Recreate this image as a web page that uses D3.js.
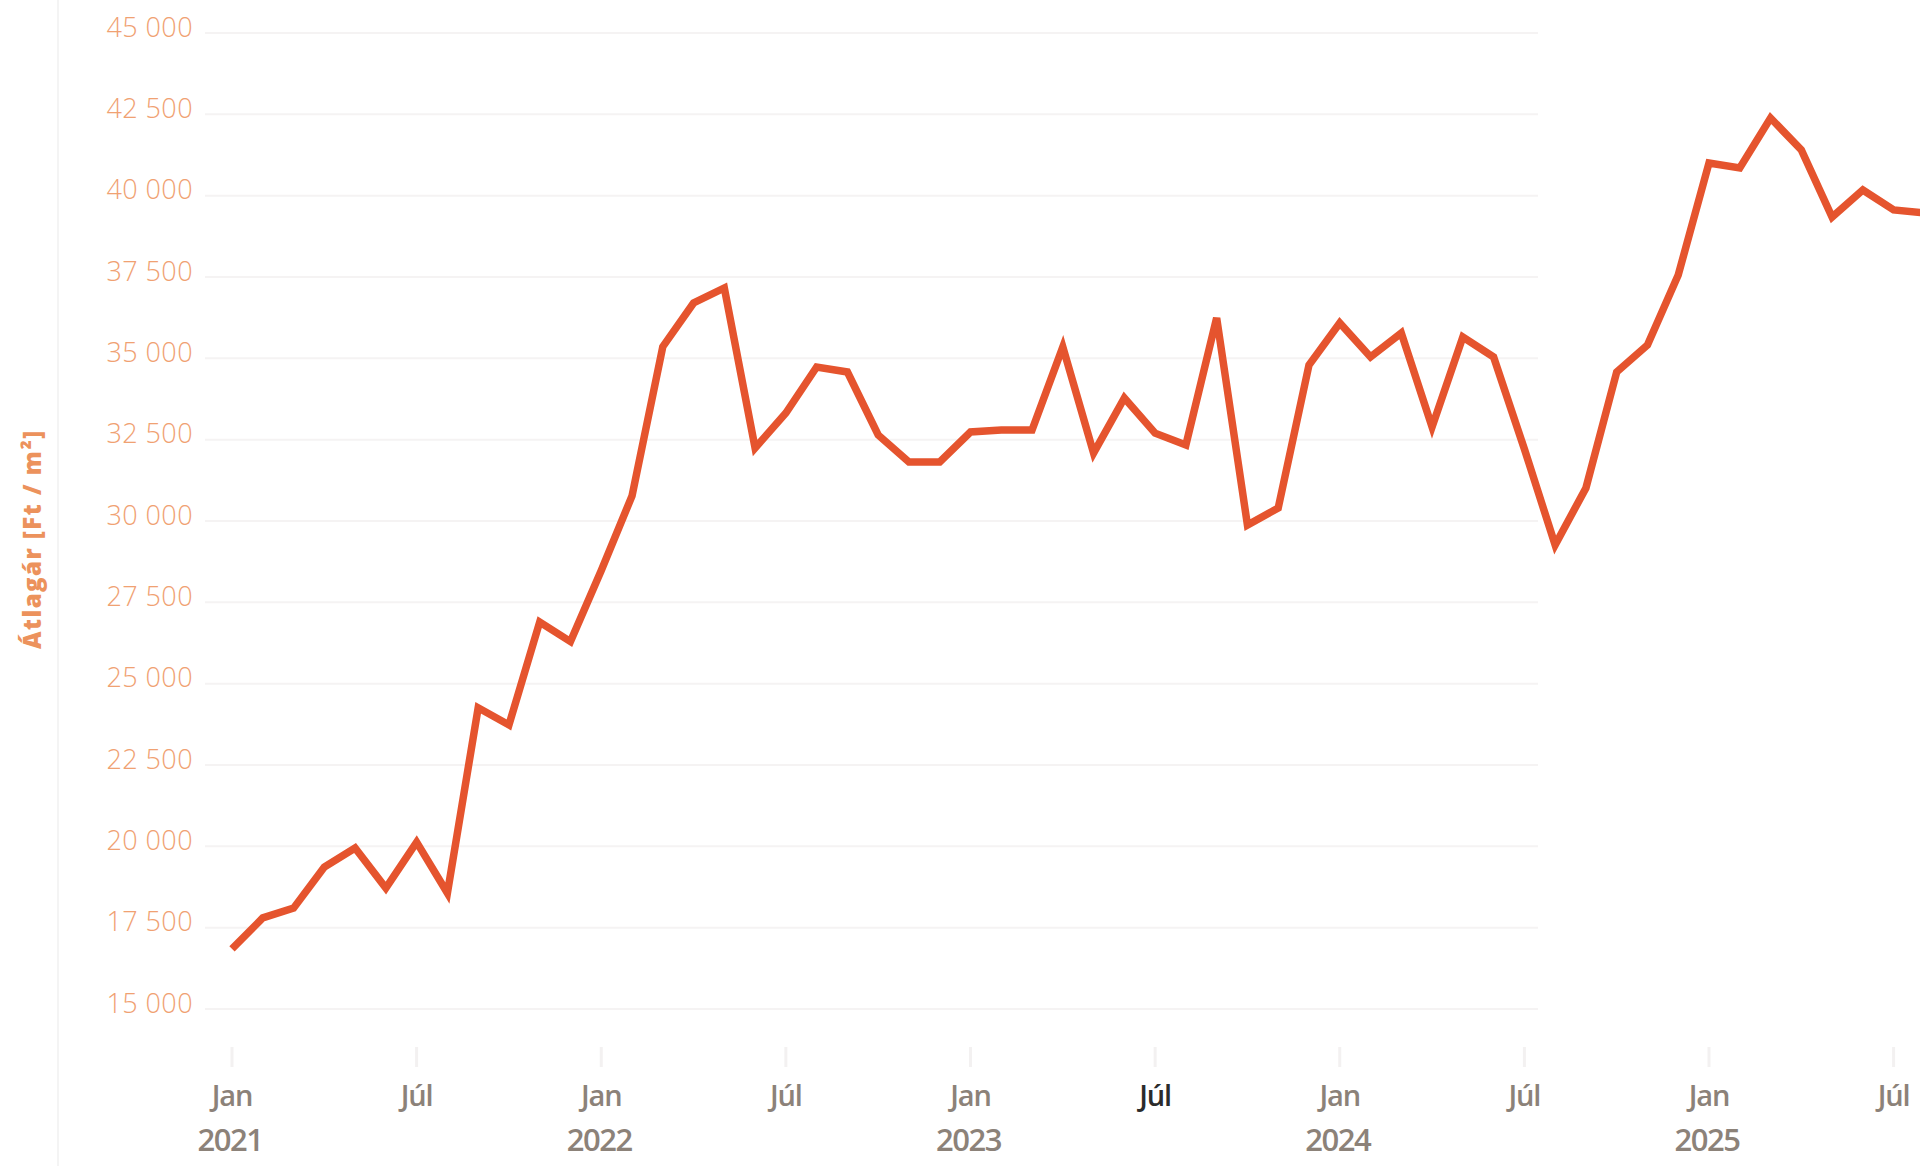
<!DOCTYPE html>
<html>
<head>
<meta charset="utf-8">
<script src="https://cdn.jsdelivr.net/npm/d3@7"></script>
<style>
  html, body { margin: 0; padding: 0; background: #ffffff; }
  svg { display: block; }
</style>
</head>
<body>
<svg id="chart" width="1920" height="1166"></svg>
<script>
// ---- data ----
const months = [
  "2021-01","2021-02","2021-03","2021-04","2021-05","2021-06","2021-07","2021-08","2021-09","2021-10","2021-11","2021-12",
  "2022-01","2022-02","2022-03","2022-04","2022-05","2022-06","2022-07","2022-08","2022-09","2022-10","2022-11","2022-12",
  "2023-01","2023-02","2023-03","2023-04","2023-05","2023-06","2023-07","2023-08","2023-09","2023-10","2023-11","2023-12",
  "2024-01","2024-02","2024-03","2024-04","2024-05","2024-06","2024-07","2024-08","2024-09","2024-10","2024-11","2024-12",
  "2025-01","2025-02","2025-03","2025-04","2025-05","2025-06","2025-07","2025-08"
];
const avgPrice = [
  16850, 17800, 18100, 19365, 19950, 18720, 20130, 18565, 24258, 23733, 26895, 26293,
  28475, 30772, 35358, 36701, 37162, 32244, 33320, 34734, 34580, 32644, 31814, 31814,
  32736, 32797, 32797, 35349, 32090, 33781, 32700, 32336, 36240, 29877, 30400, 34795,
  36086, 35041, 35779, 32890, 35656, 35041, 32213, 29262, 31014, 34580, 35410, 37562,
  41004, 40851, 42388, 41404, 39344, 40174, 39560, 39467
];
const yTickValues = [15000, 17500, 20000, 22500, 25000, 27500, 30000, 32500, 35000, 37500, 40000, 42500, 45000];
const yTickLabels = ["15 000","17 500","20 000","22 500","25 000","27 500","30 000","32 500","35 000","37 500","40 000","42 500","45 000"];
const xTickIndex = [0, 6, 12, 18, 24, 30, 36, 42, 48, 54];
const xTickMonth = ["Jan","Júl","Jan","Júl","Jan","Júl","Jan","Júl","Jan","Júl"];
const xTickYear  = ["2021","","2022","","2023","","2024","","2025",""];
const yAxisTitle = "Átlagár [Ft / m²]";

// ---- layout ----
const svg = d3.select("#chart");
const x = d3.scaleLinear().domain([0, 48]).range([232, 1709]);
const y = d3.scaleLinear().domain([15000, 45000]).range([1009, 33]);
const gridX0 = 205, gridX1 = 1538;

// faint scan edge line on the left
svg.append("line")
  .attr("x1", 58).attr("x2", 58).attr("y1", 0).attr("y2", 1166)
  .attr("stroke", "#f4f4f4").attr("stroke-width", 2);

// gridlines
svg.append("g").selectAll("line").data(yTickValues).join("line")
  .attr("x1", gridX0).attr("x2", gridX1)
  .attr("y1", d => y(d)).attr("y2", d => y(d))
  .attr("stroke", "#f5f3f3").attr("stroke-width", 2);

// y tick labels
svg.append("g").selectAll("text").data(yTickValues).join("text")
  .attr("x", 193).attr("y", d => y(d) - 7)
  .attr("text-anchor", "end").attr("dominant-baseline", "central")
  .attr("font-family", "'Open Sans', sans-serif").attr("font-weight", 300)
  .attr("font-size", 27).attr("letter-spacing", 0.4)
  .attr("fill", "#f0a172")
  .text((d, i) => yTickLabels[i]);

// y axis title
svg.append("text")
  .attr("transform", "translate(31,540) rotate(-90)")
  .attr("text-anchor", "middle").attr("dominant-baseline", "central")
  .attr("font-family", "'Open Sans', sans-serif").attr("font-weight", 800)
  .attr("font-size", 24)
  .attr("textLength", 218).attr("lengthAdjust", "spacing")
  .attr("fill", "#ec925c")
  .text(yAxisTitle);

// x ticks
svg.append("g").selectAll("line").data(xTickIndex).join("line")
  .attr("x1", d => x(d)).attr("x2", d => x(d))
  .attr("y1", 1047).attr("y2", 1067)
  .attr("stroke", "#f3f1f1").attr("stroke-width", 3);

// x tick labels
svg.append("g").selectAll("text").data(xTickIndex).join("text")
  .attr("x", d => x(d)).attr("y", 1094)
  .attr("text-anchor", "middle").attr("dominant-baseline", "central")
  .attr("font-family", "'Open Sans', sans-serif").attr("font-weight", 600)
  .attr("font-size", 29).attr("letter-spacing", -1.2)
  .attr("fill", (d, i) => i === 5 ? "#2b2b2b" : "#8c8279")
  .text((d, i) => xTickMonth[i]);

svg.append("g").selectAll("text").data(xTickIndex.filter((d, i) => xTickYear[i] !== "")).join("text")
  .attr("x", d => x(d) - 2).attr("y", 1139)
  .attr("text-anchor", "middle").attr("dominant-baseline", "central")
  .attr("font-family", "'Open Sans', sans-serif").attr("font-weight", 600)
  .attr("font-size", 31).attr("letter-spacing", -1.5)
  .attr("fill", "#8c8279")
  .text(d => xTickYear[xTickIndex.indexOf(d)]);

// line
const line = d3.line()
  .x((d, i) => x(i))
  .y(d => y(d));

svg.append("path")
  .datum(avgPrice)
  .attr("d", line)
  .attr("fill", "none")
  .attr("stroke", "#e5542e")
  .attr("stroke-width", 7.5)
  .attr("stroke-linejoin", "miter")
  .attr("stroke-linecap", "butt");
</script>
</body>
</html>
